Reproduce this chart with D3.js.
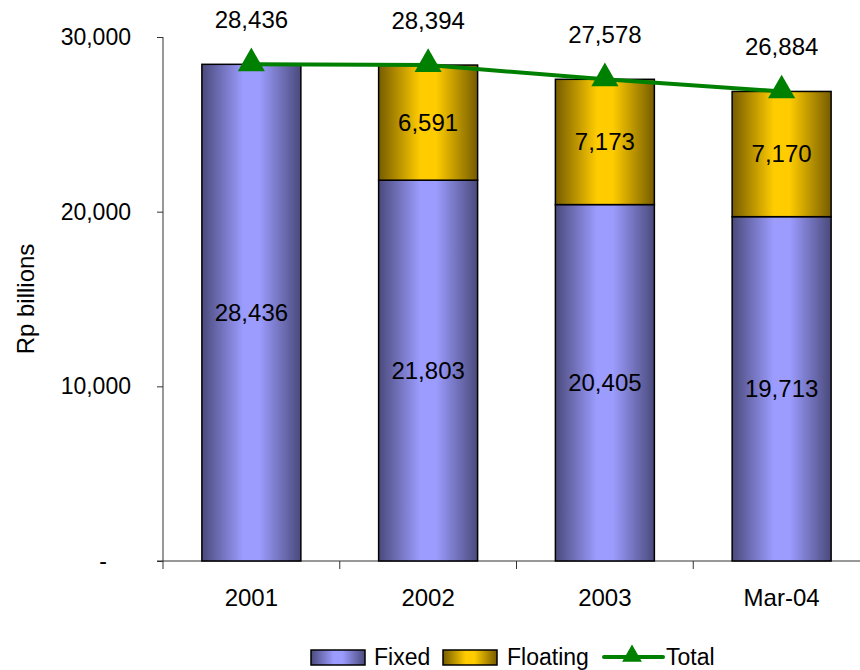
<!DOCTYPE html>
<html>
<head>
<meta charset="utf-8">
<script src="https://cdn.jsdelivr.net/npm/d3@7"></script>
<style>
  html, body { margin: 0; padding: 0; background: #fff; }
  svg { display: block; font-family: "Liberation Sans", Arial, sans-serif; }
</style>
</head>
<body>
<svg id="chart" width="860" height="670"></svg>
<script>
// Rupiah debt composition by year (Rp billions)
const categories = ["2001", "2002", "2003", "Mar-04"];
const fixedValues = [28436, 21803, 20405, 19713];
const floatingValues = [0, 6591, 7173, 7170];
const totalValues = [28436, 28394, 27578, 26884];
const yTicks = [0, 10000, 20000, 30000];
const seriesNames = ["Fixed", "Floating", "Total"];

const svg = d3.select("#chart");
const fmt = d3.format(",");

const x = d3.scaleBand().domain(categories).range([163, 870]).paddingInner(0.44).paddingOuter(0.22);
const y = d3.scaleLinear().domain([0, 30000]).range([561, 37]);

// Horizontal cylinder-style gradients for the bars
const defs = svg.append("defs");
function gradient(id, edge, mid) {
  const g = defs.append("linearGradient").attr("id", id).attr("x1", "0%").attr("x2", "100%").attr("y1", "0%").attr("y2", "0%");
  g.append("stop").attr("offset", "0%").attr("stop-color", edge);
  g.append("stop").attr("offset", "42%").attr("stop-color", mid);
  g.append("stop").attr("offset", "58%").attr("stop-color", mid);
  g.append("stop").attr("offset", "100%").attr("stop-color", edge);
}
gradient("gFixed", "#4a4a7c", "#9c9cff");
gradient("gFloat", "#765c00", "#ffcc00");

// Axes (zero shown as an accounting-style dash, set in from the other labels)
const yAxis = d3.axisLeft(y).tickValues(yTicks).tickSize(6).tickPadding(26)
  .tickFormat(d => d === 0 ? "-" : fmt(d));
const gy = svg.append("g").attr("transform", "translate(163,0)").call(yAxis);
gy.select(".domain").attr("stroke", "#333").attr("d", "M0,37V561");
gy.selectAll(".tick line").attr("stroke", "#333");
gy.selectAll(".tick text").attr("font-size", 23).attr("fill", "#000")
  .attr("dx", d => d === 0 ? -24 : 0);

const gx = svg.append("g");
gx.append("line").attr("x1", 157).attr("x2", 860).attr("y1", 561).attr("y2", 561).attr("stroke", "#333");
const xTickPos = categories.map(c => x(c) - x.step() * x.paddingInner() / 2)
  .concat([x(categories[3]) + x.bandwidth() + x.step() * x.paddingInner() / 2]);
gx.selectAll("line.tk").data(xTickPos).join("line").attr("class", "tk")
  .attr("x1", d => d).attr("x2", d => d).attr("y1", 561).attr("y2", 569).attr("stroke", "#333");
gx.selectAll("text").data(categories).join("text")
  .attr("x", d => x(d) + x.bandwidth() / 2).attr("y", 606)
  .attr("text-anchor", "middle").attr("font-size", 24).text(d => d);

svg.append("text").attr("transform", "translate(34,299) rotate(-90)")
  .attr("text-anchor", "middle").attr("font-size", 24).text("Rp billions");

// Stacked bars
const rows = categories.map((c, i) => ({ c, fixed: fixedValues[i], floating: floatingValues[i] }));
const bars = svg.append("g");
bars.selectAll("rect.fixed").data(rows).join("rect").attr("class", "fixed")
  .attr("x", d => x(d.c)).attr("width", x.bandwidth())
  .attr("y", d => y(d.fixed)).attr("height", d => y(0) - y(d.fixed))
  .attr("fill", "url(#gFixed)").attr("stroke", "#000").attr("stroke-width", 1.5);
bars.selectAll("rect.float").data(rows.filter(d => d.floating > 0)).join("rect").attr("class", "float")
  .attr("x", d => x(d.c)).attr("width", x.bandwidth())
  .attr("y", d => y(d.fixed + d.floating)).attr("height", d => y(d.fixed) - y(d.fixed + d.floating))
  .attr("fill", "url(#gFloat)").attr("stroke", "#000").attr("stroke-width", 1.5);

// Segment value labels
bars.selectAll("text.fl").data(rows).join("text").attr("class", "fl")
  .attr("x", d => x(d.c) + x.bandwidth() / 2).attr("y", d => (y(0) + y(d.fixed)) / 2)
  .attr("dy", "0.35em").attr("text-anchor", "middle").attr("font-size", 24).text(d => fmt(d.fixed));
bars.selectAll("text.ol").data(rows.filter(d => d.floating > 0)).join("text").attr("class", "ol")
  .attr("x", d => x(d.c) + x.bandwidth() / 2).attr("y", d => (y(d.fixed) + y(d.fixed + d.floating)) / 2)
  .attr("dy", "0.35em").attr("text-anchor", "middle").attr("font-size", 24).text(d => fmt(d.floating));

// Total line with triangle markers
const pts = categories.map((c, i) => ({ c, v: totalValues[i] }));
const cx = d => x(d.c) + x.bandwidth() / 2;
svg.append("path").datum(pts)
  .attr("d", d3.line().x(cx).y(d => y(d.v)))
  .attr("fill", "none").attr("stroke", "#008000").attr("stroke-width", 4);
const tri = d3.symbol().type(d3.symbolTriangle).size(320);
svg.selectAll("path.mk").data(pts).join("path").attr("class", "mk")
  .attr("transform", d => `translate(${cx(d)},${y(d.v) - 1})`)
  .attr("d", tri).attr("fill", "#008000");
svg.selectAll("text.tot").data(pts).join("text").attr("class", "tot")
  .attr("x", cx).attr("y", d => y(d.v) - 36)
  .attr("text-anchor", "middle").attr("font-size", 24).text(d => fmt(d.v));

// Legend
const lg = svg.append("g").attr("transform", "translate(0,657)");
lg.append("rect").attr("x", 311).attr("y", -7).attr("width", 54).attr("height", 15)
  .attr("fill", "url(#gFixed)").attr("stroke", "#000").attr("stroke-width", 1.5);
lg.append("text").attr("x", 374).attr("y", 0).attr("dy", "0.35em").attr("font-size", 23).text(seriesNames[0]);
lg.append("rect").attr("x", 443).attr("y", -7).attr("width", 54).attr("height", 15)
  .attr("fill", "url(#gFloat)").attr("stroke", "#000").attr("stroke-width", 1.5);
lg.append("text").attr("x", 507).attr("y", 0).attr("dy", "0.35em").attr("font-size", 23).text(seriesNames[1]);
lg.append("line").attr("x1", 604).attr("x2", 663).attr("y1", 0).attr("y2", 0)
  .attr("stroke", "#008000").attr("stroke-width", 4).attr("stroke-linecap", "round");
lg.append("path").attr("transform", "translate(632,-1)").attr("d", d3.symbol().type(d3.symbolTriangle).size(170)).attr("fill", "#008000");
lg.append("text").attr("x", 666).attr("y", 0).attr("dy", "0.35em").attr("font-size", 23).text(seriesNames[2]);
</script>
</body>
</html>
